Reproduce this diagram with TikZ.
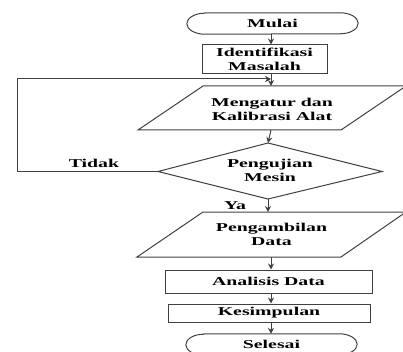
\documentclass[tikz,border=0pt]{standalone}
\usepackage{fontspec}
\setmainfont{Liberation Serif}[FakeStretch=1.65]
\usetikzlibrary{arrows.meta}
\definecolor{ln}{HTML}{404040}
\tikzset{
  every node/.style={font=\fontsize{12}{14}\selectfont\bfseries, align=center, inner sep=0pt},
  shp/.style={draw=ln, line width=1pt},
  arr/.style={draw=ln, line width=1pt, -{Stealth[length=6pt,width=6pt]}},
  lbl/.style={font=\fontsize{12}{14}\selectfont\bfseries}
}
\begin{document}
\begin{tikzpicture}[x=1pt,y=-1pt]
\path[use as bounding box] (0,0) rectangle (403,352);
\clip (0,0) rectangle (403,352);
\coordinate (spine) at (271,0);
% nodes
\node[minimum width=171pt, minimum height=21pt] (mulai) at (272.5,23.5) {Mulai};
\draw[shp] ([xshift=18pt]mulai.north west) -- ([xshift=-18pt]mulai.north east)
  arc[start angle=90, end angle=-90, x radius=18pt, y radius=10.5pt]
  -- ([xshift=18pt]mulai.south west)
  arc[start angle=270, end angle=90, x radius=18pt, y radius=10.5pt] -- cycle;
\node[shp, minimum width=125pt, minimum height=29pt] (ident) at (264.5,59.5) {Identifikasi\\Masalah};
\node (atur) at (272,109) {Mengatur dan\\Kalibrasi Alat};
\draw[shp] (203,86) -- (406,86) -- (341,130) -- (138,130) -- cycle;
\coordinate (aturN) at (272,86);
\coordinate (aturS) at (272,130);
\node (uji) at (270,170.5) {Pengujian\\Mesin};
\coordinate (ujiN) at (268,143);
\coordinate (ujiS) at (268,199);
\coordinate (ujiW) at (158,171.5);
\coordinate (ujiE) at (382,171.5);
\draw[shp] (ujiN) -- (ujiE) -- (ujiS) -- (ujiW) -- cycle;
\node (ambil) at (271.5,234.5) {Pengambilan\\Data};
\draw[shp] (203,212) -- (406,212) -- (341,257) -- (137,257) -- cycle;
\coordinate (ambilN) at (271,212);
\coordinate (ambilS) at (271,257);
\node[shp, minimum width=207pt, minimum height=23pt] (anal) at (268.5,281.5) {Analisis Data};
\node[shp, minimum width=202pt, minimum height=18pt] (kesim) at (269,313) {Kesimpulan};
\node[minimum width=171pt, minimum height=21pt] (selesai) at (271.5,344.5) {Selesai};
\draw[shp] ([xshift=18pt]selesai.north west) -- ([xshift=-18pt]selesai.north east)
  arc[start angle=90, end angle=-90, x radius=18pt, y radius=10.5pt]
  -- ([xshift=18pt]selesai.south west)
  arc[start angle=270, end angle=90, x radius=18pt, y radius=10.5pt] -- cycle;
% labels
\node[lbl] (tidak) at (94,163) {Tidak};
\node[lbl] (ya) at (235,206) {Ya};
% connectors
\draw[arr] (mulai.south -| spine) -- (ident.north -| spine);
\draw[arr] (ident.south -| spine) -- (aturN -| spine);
\draw[arr] (aturS -| spine) -- (ujiN);
\draw[arr] (ujiS) -- (ambilN -| ujiS);
\draw[arr] (ambilS -| spine) -- (anal.north -| spine);
\draw[arr] (anal.south -| spine) -- (kesim.north -| spine);
\draw[arr] (kesim.south -| spine) -- ([yshift=0pt]selesai.north -| spine);
\coordinate (loopB) at (17,171.5);
\coordinate (loopT) at (17,79);
\draw[arr] (ujiW) -- (loopB) -- (loopT) -- (loopT -| spine);
\end{tikzpicture}
\end{document}
